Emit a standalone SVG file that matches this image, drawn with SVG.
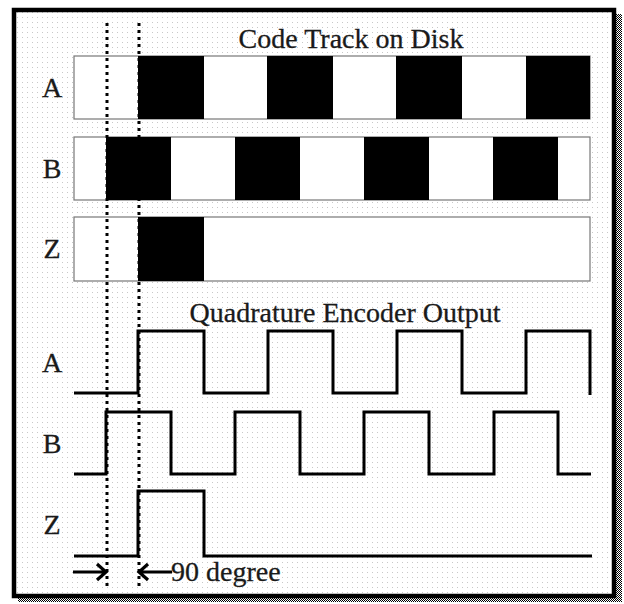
<svg xmlns="http://www.w3.org/2000/svg" width="624" height="604" viewBox="0 0 624 604">
  <defs>
    <pattern id="dots" width="5" height="5" patternUnits="userSpaceOnUse">
      <rect x="2" y="2" width="1" height="1" fill="#c8c8c8"/>
    </pattern>
    <pattern id="checker" width="2" height="2" patternUnits="userSpaceOnUse">
      <rect width="1" height="1" fill="#000"/>
      <rect x="1" y="1" width="1" height="1" fill="#000"/>
    </pattern>
  </defs>
  <style>
    .lbl { font-family: "Liberation Serif", "Times New Roman", serif; font-size: 28px; fill: #1a1a1a; stroke: #1a1a1a; stroke-width: 0.3; }
    .bar { fill: #fff; stroke: #777; stroke-width: 1.2; }
    .blk { fill: #000; }
    .wave { fill: none; stroke: #000; stroke-width: 3; stroke-linejoin: miter; }
    .guide { stroke: #000; stroke-width: 3; stroke-dasharray: 3 4; }
    .arrow { fill: none; stroke: #000; stroke-width: 3.2; }
  </style>

  <!-- frame with drop shadow and dotted ground -->
  <rect x="0" y="0" width="624" height="604" fill="#fff"/>
  <rect x="18" y="14" width="604" height="588" fill="url(#checker)"/>
  <rect x="14" y="10" width="600" height="586" fill="#fff"/>
  <rect x="14" y="10" width="600" height="586" fill="url(#dots)"/>
  <rect x="14" y="10" width="600" height="586" fill="none" stroke="#000" stroke-width="4.5"/>

  <!-- titles -->
  <text class="lbl" x="351" y="48" text-anchor="middle">Code Track on Disk</text>
  <text class="lbl" x="345" y="322" text-anchor="middle">Quadrature Encoder Output</text>

  <!-- code track A -->
  <g id="trackA">
    <rect class="bar" x="74" y="56" width="516" height="63"/>
    <rect class="blk" x="138" y="56" width="66" height="63"/>
    <rect class="blk" x="267" y="56" width="66" height="63"/>
    <rect class="blk" x="396" y="56" width="66" height="63"/>
    <rect class="blk" x="526" y="56" width="64" height="63"/>
    <text class="lbl" x="52" y="97" text-anchor="middle">A</text>
  </g>

  <!-- code track B -->
  <g id="trackB">
    <rect class="bar" x="74" y="137" width="516" height="63"/>
    <rect class="blk" x="106" y="137" width="65" height="63"/>
    <rect class="blk" x="235" y="137" width="65" height="63"/>
    <rect class="blk" x="364" y="137" width="65" height="63"/>
    <rect class="blk" x="493" y="137" width="65" height="63"/>
    <text class="lbl" x="52" y="178" text-anchor="middle">B</text>
  </g>

  <!-- code track Z -->
  <g id="trackZ">
    <rect class="bar" x="74" y="217" width="516" height="64"/>
    <rect class="blk" x="138" y="217" width="66" height="64"/>
    <text class="lbl" x="52" y="258" text-anchor="middle">Z</text>
  </g>

  <!-- output waveforms -->
  <g id="waveA">
    <path class="wave" d="M74,393 H138 V331 H204 V393 H268 V331 H333 V393 H397 V331 H462 V393 H526 V331 H590 V395"/>
    <text class="lbl" x="52" y="372" text-anchor="middle">A</text>
  </g>
  <g id="waveB">
    <path class="wave" d="M74,474 H106 V412 H171 V474 H235 V412 H300 V474 H364 V412 H429 V474 H494 V412 H558 V474 H591"/>
    <text class="lbl" x="52" y="453" text-anchor="middle">B</text>
  </g>
  <g id="waveZ">
    <path class="wave" d="M74,556 H138 V491 H204 V556 H592"/>
    <text class="lbl" x="52" y="534" text-anchor="middle">Z</text>
  </g>

  <!-- phase guides and 90 degree marker -->
  <g id="connectors">
    <line class="guide" x1="107" y1="23" x2="107" y2="590"/>
    <line class="guide" x1="139" y1="23" x2="139" y2="590"/>
    <path class="arrow" d="M73,572 H105 M97,564 L106,572 L97,580"/>
    <path class="arrow" d="M172,572 H140 M148,564 L139,572 L148,580"/>
  </g>
  <text class="lbl" x="171" y="581">90 degree</text>
</svg>
